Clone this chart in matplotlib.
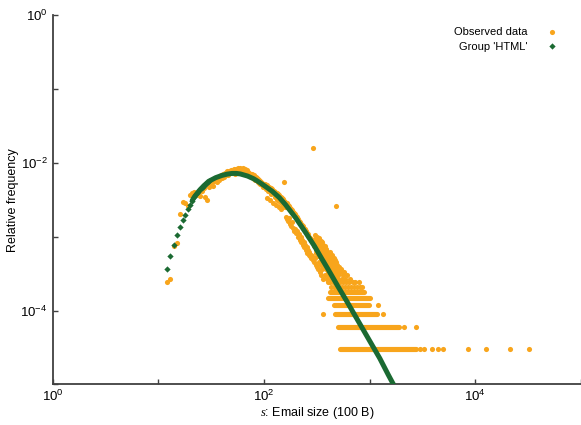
import numpy as np
import matplotlib
matplotlib.use("Agg")
import matplotlib.pyplot as plt

plt.rcParams["font.family"] = ["Liberation Sans", "DejaVu Sans"]
plt.rcParams["mathtext.fontset"] = "custom"
plt.rcParams["mathtext.rm"] = "Liberation Sans"
plt.rcParams["mathtext.it"] = "Liberation Serif:italic"

# total number of emails; one email corresponds to the lowest row of points
N_EMAILS = 33333

# observed counts per email size (units of 100 B), sizes 12..100
peak_size = np.arange(12, 101)
peak_count = [8, 9, 25, 27, 68, 97, 95, 87, 122, 129,
              136, 121, 134, 119, 138, 150, 116, 105, 159, 172,
              181, 160, 190, 202, 186, 214, 198, 226, 205, 236,
              218, 247, 226, 255, 232, 262, 240, 268, 246, 259,
              272, 236, 264, 278, 250, 283, 262, 275, 288, 256,
              270, 281, 246, 262, 274, 240, 258, 266, 236, 250,
              228, 244, 230, 238, 216, 234, 222, 210, 226, 204,
              218, 197, 212, 193, 205, 186, 199, 180, 194, 175,
              190, 171, 184, 168, 178, 160, 174, 157, 170]

# sizes 102..300, every second size
shoulder_size = np.arange(102, 301, 2)
shoulder_count = [175, 148, 112, 166, 138, 158, 104, 150, 126, 146,
                  96, 140, 116, 134, 90, 130, 106, 125, 84, 122,
                  98, 116, 78, 112, 90, 108, 185, 102, 84, 98,
                  62, 95, 58, 90, 55, 86, 60, 82, 50, 78,
                  47, 76, 52, 72, 44, 70, 40, 67, 42, 64,
                  37, 62, 40, 58, 33, 57, 36, 54, 30, 52,
                  33, 50, 28, 48, 30, 46, 26, 44, 28, 43,
                  24, 42, 26, 40, 22, 39, 24, 37, 20, 36,
                  22, 34, 19, 33, 21, 32, 18, 31, 19, 30,
                  17, 29, 18, 28, 16, 27, 537, 26, 15, 25]

# sizes 302..500, every second size
tail_size = np.arange(302, 501, 2)
tail_count = [31, 17, 35, 22, 14, 28, 20, 33, 13, 25,
              18, 30, 12, 23, 27, 15, 32, 19, 11, 26,
              21, 14, 29, 17, 10, 24, 20, 28, 12, 22,
              16, 26, 9, 19, 24, 13, 21, 15, 25, 10,
              18, 22, 12, 16, 23, 9, 19, 14, 21, 11,
              17, 8, 20, 13, 18, 10, 15, 19, 8, 14,
              21, 11, 16, 9, 18, 13, 7, 17, 12, 15,
              9, 19, 11, 14, 8, 16, 12, 10, 17, 7,
              13, 15, 9, 12, 16, 8, 14, 11, 7, 13,
              10, 15, 8, 12, 9, 14, 7, 11, 13, 10]

# larger sizes that still reach seven or more emails
far_size = [505, 511, 517, 523, 529, 536, 543, 550, 557, 565, 573, 581, 590,
            600, 612, 625, 640, 655, 672, 690, 710, 735, 760, 790, 820, 850]
far_count = [9, 13, 7, 11, 8, 12, 9, 7, 10, 8, 11, 7, 9,
             8, 10, 7, 8, 9, 7, 8, 7, 8, 7, 8, 7, 7]

# runs of consecutive sizes sharing the same small count
run_count = [6, 5, 4, 3, 2, 1]
run_start = [420, 405, 465, 475, 504, 530]
run_end = [880, 1000, 981, 1177, 1911, 2766]

# isolated sizes
lone_size = [361, 483, 1202, 1342, 2117, 2766, 3020, 3296, 3920, 4466,
             4980, 8570, 12680, 21130, 31940]
lone_count = [3, 88, 4, 3, 2, 2, 1, 1, 1, 1, 1, 1, 1, 1, 1]

# fitted model for the HTML group
model_size = np.array([12, 13, 14, 15, 16, 17, 18, 19, 20, 21, 22, 23, 24, 25,
                       26, 27, 28, 29, 30, 35, 40, 45, 50, 55, 60, 70, 80, 90,
                       100, 120, 140, 160, 180, 200, 250, 300, 350, 400, 500,
                       600, 800, 1000, 1250, 1500, 1800])
model_freq = np.array([3.68e-4, 5.50e-4, 7.76e-4, 1.047e-3, 1.349e-3, 1.660e-3,
                       1.995e-3, 2.344e-3, 2.723e-3, 3.090e-3, 3.467e-3,
                       3.758e-3, 4.074e-3, 4.365e-3, 4.624e-3, 4.898e-3,
                       5.129e-3, 5.370e-3, 5.623e-3, 6.310e-3, 6.761e-3,
                       7.047e-3, 7.20e-3, 7.20e-3, 7.079e-3, 6.637e-3,
                       6.095e-3, 5.495e-3, 4.955e-3, 4.121e-3, 3.388e-3,
                       2.723e-3, 2.188e-3, 1.799e-3, 1.122e-3, 7.50e-4,
                       5.13e-4, 3.72e-4, 2.14e-4, 1.38e-4, 6.76e-5, 3.89e-5,
                       2.24e-5, 1.35e-5, 8.3e-6])

ORANGE = "#f8a51c"
GREEN = "#1b6a32"
AXIS = "#404040"

fig = plt.figure(figsize=(5.81, 4.25), dpi=100)
ax = fig.add_axes([52.5 / 581, 1 - 384.3 / 425, 1 - 52.5 / 581, 369 / 425])
ax.set_xscale("log")
ax.set_yscale("log")

obs_size = np.concatenate([peak_size, shoulder_size, tail_size, far_size, lone_size])
obs_count = np.concatenate([peak_count, shoulder_count, tail_count, far_count, lone_count])
obs_handle, = ax.plot(obs_size, obs_count / N_EMAILS, "o", ms=3.7, mew=0,
                      color=ORANGE, zorder=2, label="Observed data")
ax.hlines(np.array(run_count) / N_EMAILS, run_start, run_end, colors=ORANGE,
          linewidth=3.7, capstyle="round", zorder=2)

dense = model_size >= 21
ax.plot(model_size[dense], model_freq[dense], "-", lw=3.6, color=GREEN,
        solid_capstyle="round", zorder=3)
sparse = model_size <= 30
model_handle, = ax.plot(model_size[sparse], model_freq[sparse], "D", ms=3.2,
                        mew=0, color=GREEN, zorder=3, label="Group 'HTML'")

ax.set_xlim(1, 1e5)
ax.set_ylim(1e-5, 1)

xt = [1, 10, 100, 1e3, 1e4, 1e5]
ax.set_xticks(xt)
ax.set_xticklabels([r"$\mathregular{10^{0}}$", "", r"$\mathregular{10^{2}}$", "",
                    r"$\mathregular{10^{4}}$", ""])
yt = [1e-5, 1e-4, 1e-3, 1e-2, 1e-1, 1]
ax.set_yticks(yt)
ax.set_yticklabels(["", r"$\mathregular{10^{-4}}$", "", r"$\mathregular{10^{-2}}$", "",
                    r"$\mathregular{10^{0}}$"])
ax.xaxis.set_minor_locator(matplotlib.ticker.NullLocator())
ax.yaxis.set_minor_locator(matplotlib.ticker.NullLocator())
ax.tick_params(direction="in", length=3.5, width=1, color=AXIS,
               labelcolor="black", labelsize=9.5)

for side in ("top", "right"):
    ax.spines[side].set_visible(False)
for side in ("left", "bottom"):
    ax.spines[side].set_color(AXIS)
    ax.spines[side].set_linewidth(1.3)

ax.set_xlabel(r"$s$: Email size (100 B)", fontsize=9)
ax.xaxis.set_label_coords(0.5, -0.056)
ax.set_ylabel("Relative frequency", fontsize=9)
ax.yaxis.set_label_coords(-0.064, 0.5)

ax.legend(handles=[obs_handle, model_handle], loc="upper right",
          bbox_to_anchor=(0.9557, 0.967), markerfirst=False, frameon=False,
          fontsize=8, handlelength=1.0, handletextpad=1.75,
          borderaxespad=0, borderpad=0, labelspacing=0.4)

fig.savefig("out.png", dpi=100)
